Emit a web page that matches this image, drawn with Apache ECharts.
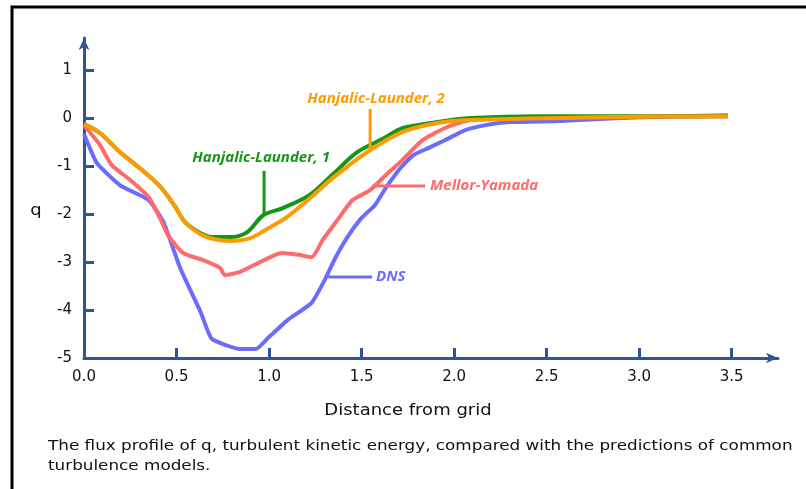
<!DOCTYPE html>
<html><head><meta charset="utf-8">
<script src="https://cdn.jsdelivr.net/npm/echarts@6/dist/echarts.min.js"></script>
<style>html,body{margin:0;padding:0;background:#fff}#c{width:806px;height:489px}</style>
</head><body><div id="c"></div>
<script>
// ---- data ----
const xTicks = [0, 0.5, 1, 1.5, 2, 2.5, 3, 3.5];
const yTicks = [-5, -4, -3, -2, -1, 0, 1];

const dnsX = [0, 0.07, 0.195, 0.35, 0.43, 0.52, 0.63, 0.69, 0.84, 0.93, 0.995, 1.10, 1.23, 1.30, 1.357, 1.42, 1.50, 1.573, 1.63, 1.71, 1.78, 1.86, 1.95, 2.06, 2.17, 2.30, 2.57, 2.9, 3.22, 3.48];
const dnsY = [-0.33, -0.94, -1.40, -1.71, -2.17, -3.13, -4.04, -4.60, -4.81, -4.81, -4.58, -4.21, -3.85, -3.38, -2.92, -2.50, -2.08, -1.81, -1.46, -1.04, -0.77, -0.625, -0.46, -0.25, -0.146, -0.083, -0.06, 0, 0.04, 0.06];

const myX = [0, 0.086, 0.15, 0.25, 0.35, 0.41, 0.454, 0.535, 0.643, 0.735, 0.76, 0.84, 0.92, 1.07, 1.16, 1.23, 1.29, 1.37, 1.45, 1.546, 1.63, 1.72, 1.83, 1.96, 2.09, 2.36, 2.8, 3.48];
const myY = [-0.15, -0.56, -0.98, -1.29, -1.65, -2.08, -2.44, -2.81, -2.96, -3.12, -3.27, -3.21, -3.06, -2.81, -2.85, -2.90, -2.54, -2.12, -1.71, -1.5, -1.19, -0.875, -0.46, -0.19, -0.04, 0, 0.02, 0.04];

const hl1X = [0, 0.086, 0.195, 0.30, 0.41, 0.49, 0.546, 0.63, 0.70, 0.79, 0.88, 0.97, 1.075, 1.22, 1.35, 1.476, 1.62, 1.72, 1.91, 2.09, 2.46, 3.48];
const hl1Y = [-0.125, -0.31, -0.71, -1.04, -1.42, -1.83, -2.17, -2.40, -2.48, -2.48, -2.38, -2.02, -1.875, -1.6, -1.15, -0.71, -0.42, -0.21, -0.08, 0, 0.04, 0.04];

const hl2X = [0, 0.086, 0.195, 0.30, 0.41, 0.49, 0.546, 0.63, 0.70, 0.79, 0.90, 0.98, 1.09, 1.22, 1.35, 1.546, 1.72, 1.91, 2.09, 2.79, 3.48];
const hl2Y = [-0.125, -0.31, -0.71, -1.04, -1.42, -1.83, -2.17, -2.42, -2.52, -2.56, -2.50, -2.33, -2.08, -1.67, -1.23, -0.667, -0.29, -0.10, -0.04, 0.02, 0.04];

const seriesNames = ['DNS', 'Mellor-Yamada', 'Hanjalic-Launder, 1', 'Hanjalic-Launder, 2'];
const colors = ['#6b6bff', '#ff6b6b', '#169616', '#ff9b00'];

// annotation: label anchor + leader line, in data units
const annotations = [
  {name: 'Hanjalic-Launder, 2', color: '#ff9b00', text: [1.578, 0.40], align: 'center', line: [[1.546, 0.19], [1.546, -0.667]]},
  {name: 'Hanjalic-Launder, 1', color: '#169616', text: [0.957, -0.83], align: 'center', line: [[0.973, -1.10], [0.973, -2.0]]},
  {name: 'Mellor-Yamada', color: '#ff6b6b', text: [1.87, -1.417], align: 'left', line: [[1.557, -1.417], [1.843, -1.417]]},
  {name: 'DNS', color: '#6b6bff', text: [1.578, -3.31], align: 'left', line: [[1.319, -3.31], [1.557, -3.31]]}
];

const zip = (a, b) => a.map((v, i) => [v, b[i]]);
const dataSets = [zip(dnsX, dnsY), zip(myX, myY), zip(hl1X, hl1Y), zip(hl2X, hl2Y)];
const smooths = [0.15, 0.2, 0.3, 0.3];

const axisColor = '#2f5597';
const chart = echarts.init(document.getElementById('c'), null, {renderer: 'canvas'});
chart.setOption({
  animation: false,
  backgroundColor: '#fff',
  grid: {left: 84, right: 28, top: 38, bottom: 131, containLabel: false},
  xAxis: {
    type: 'value', min: 0, max: 3.75, interval: 0.5,
    axisLine: {onZero: false, lineStyle: {color: axisColor, width: 3}, symbol: ['none', 'arrow'], symbolSize: [8, 12]},
    axisTick: {inside: true, length: 10, lineStyle: {color: axisColor, width: 3}, customValues: xTicks.slice(1)},
    axisLabel: {customValues: xTicks, formatter: v => v.toFixed(1), color: '#111', fontFamily: 'DejaVu Sans', fontSize: 15, margin: 12},
    splitLine: {show: false}
  },
  yAxis: {
    type: 'value', min: -5, max: 1.67, interval: 1,
    axisLine: {onZero: false, lineStyle: {color: axisColor, width: 3}, symbol: ['none', 'arrow'], symbolSize: [8, 12]},
    axisTick: {inside: true, length: 10, lineStyle: {color: axisColor, width: 3}, customValues: yTicks.slice(1)},
    axisLabel: {customValues: yTicks, formatter: v => String(v), color: '#111', fontFamily: 'DejaVu Sans', fontSize: 15, margin: 12},
    splitLine: {show: false}
  },
  series: dataSets.map((d, i) => ({
    name: seriesNames[i], type: 'line', data: d, smooth: smooths[i], showSymbol: false,
    lineStyle: {color: colors[i], width: 4}, z: 2 + i
  }))
});

const px = p => chart.convertToPixel({gridIndex: 0}, p);
const wide = 1.2;
const graphics = [
  {type: 'rect', shape: {x: 12, y: 7, width: 900, height: 600}, style: {fill: 'none', stroke: '#000', lineWidth: 3}, z: 100},
  {type: 'text', x: 36, y: 211, scaleX: wide, style: {text: 'q', font: '15px "DejaVu Sans"', fill: '#111', align: 'center', verticalAlign: 'middle'}},
  {type: 'text', x: 408, y: 411, scaleX: wide, style: {text: 'Distance from grid', font: '15px "DejaVu Sans"', fill: '#111', align: 'center', verticalAlign: 'middle'}},
  {type: 'text', x: 48, y: 446, scaleX: wide, style: {text: 'The flux profile of q, turbulent kinetic energy, compared with the predictions of common', font: '14px "DejaVu Sans"', fill: '#111', verticalAlign: 'middle'}},
  {type: 'text', x: 48, y: 466, scaleX: wide, style: {text: 'turbulence models.', font: '14px "DejaVu Sans"', fill: '#111', verticalAlign: 'middle'}}
];
annotations.forEach(a => {
  const p1 = px(a.line[0]), p2 = px(a.line[1]), t = px(a.text);
  graphics.push({type: 'line', shape: {x1: p1[0], y1: p1[1], x2: p2[0], y2: p2[1]}, style: {stroke: a.color, lineWidth: 3}, z: 10});
  graphics.push({type: 'text', x: t[0], y: t[1], style: {text: a.name, font: 'italic bold 15px "Open Sans"', fill: a.color, align: a.align, verticalAlign: 'middle'}, z: 10});
});
chart.setOption({graphic: graphics});
</script>
</body></html>
